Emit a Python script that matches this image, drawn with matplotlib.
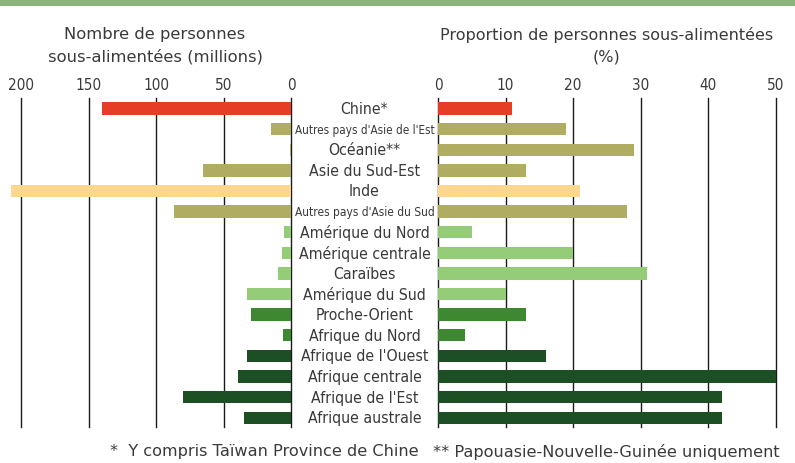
import matplotlib
matplotlib.use("Agg")
import matplotlib.pyplot as plt
import matplotlib.transforms as mtransforms
from matplotlib.patches import Rectangle
from matplotlib import font_manager
from matplotlib.font_manager import FontProperties

categories = ["Chine*", "Autres pays d'Asie de l'Est", "Océanie**", "Asie du Sud-Est",
              "Inde", "Autres pays d'Asie du Sud", "Amérique du Nord", "Amérique centrale",
              "Caraïbes", "Amérique du Sud", "Proche-Orient", "Afrique du Nord",
              "Afrique de l'Ouest", "Afrique centrale", "Afrique de l'Est", "Afrique australe"]
millions = [140, 15, 1, 65, 208, 87, 5, 7, 10, 33, 30, 6, 33, 39, 80, 35]
percent = [11, 19, 29, 13, 21, 28, 5, 20, 31, 10, 13, 4, 16, 50, 42, 42]
left_ticks = [0, 50, 100, 150, 200]
right_ticks = [0, 10, 20, 30, 40, 50]

RED, OLIVE, SAND = "#E63E26", "#B0AC62", "#FDD78F"
LGREEN, MGREEN, DGREEN = "#94CC77", "#3E8832", "#1C4F23"
colors = [RED, OLIVE, OLIVE, OLIVE, SAND, OLIVE, LGREEN, LGREEN, LGREEN, LGREEN,
          MGREEN, MGREEN, DGREEN, DGREEN, DGREEN, DGREEN]

# look for a narrow / condensed regular face, else a narrower sans
narrow_path = None
for f in font_manager.fontManager.ttflist:
    n = f.fname.lower()
    if ("narrow" in n or "condensed" in n) and "bold" not in n and "italic" not in n \
            and "oblique" not in n and "mono" not in n and "serif" not in n.replace("sans", ""):
        narrow_path = f.fname
        break
if narrow_path:
    narrow_fp = FontProperties(fname=narrow_path)
else:
    narrow_fp = FontProperties(family=["Roboto", "DejaVu Sans"])

plt.rcParams["font.family"] = ["DejaVu Sans"]
TXT = "#3a3a3a"

W, H = 795, 464
fig = plt.figure(figsize=(W / 100, H / 100), dpi=100)
fig.patch.set_facecolor("white")

def px(x0, y0, x1, y1):
    return [x0 / W, 1 - y1 / H, (x1 - x0) / W, (y1 - y0) / H]

fig.add_artist(Rectangle((0, 1 - 7 / H), 1, 7 / H, transform=fig.transFigure,
                         color="#8BB47C", lw=0))

axL = fig.add_axes(px(5, 99, 291, 428))
axR = fig.add_axes(px(438, 99, 775.7, 428))

y = list(range(len(categories)))
for ax, vals, ticks, lim in ((axL, millions, left_ticks, (212.2, 0)),
                             (axR, percent, right_ticks, (0, 50))):
    ax.barh(y, vals, height=0.6, color=colors, zorder=3)
    ax.set_xlim(*lim)
    ax.set_ylim(15.45, -0.51)
    ax.set_xticks(ticks)
    ax.xaxis.tick_top()
    ax.tick_params(axis="x", length=0, pad=4, labelcolor=TXT)
    for lab in ax.get_xticklabels():
        lab.set_fontproperties(narrow_fp)
        lab.set_fontsize(11)
    ax.set_yticks([])
    for t in ticks:
        ax.axvline(t, color="#1a1a1a", lw=1.0, zorder=1, clip_on=False)
    for s in ax.spines.values():
        s.set_visible(False)
    ax.patch.set_alpha(0)

renderer = fig.canvas.get_renderer()

def fit(txt, target_px):
    ext = txt.get_window_extent(renderer=renderer)
    txt.set_fontsize(txt.get_fontsize() * target_px / ext.width)

trans = mtransforms.blended_transform_factory(fig.transFigure, axR.transData)
for i, c in enumerate(categories):
    t = fig.text(364.5 / W, i, c, transform=trans, ha="center", va="center",
                 fontproperties=narrow_fp, fontsize=11.3, color=TXT)
    if c.startswith("Autres"):
        fit(t, 140)

fig.text(155 / W, 1 - 35 / H, "Nombre de personnes", ha="center", va="center",
         fontsize=11.8, color=TXT)
fig.text(155 / W, 1 - 57 / H, "sous-alimentées (millions)", ha="center", va="center",
         fontsize=11.8, color=TXT)
fig.text(607 / W, 1 - 35 / H, "Proportion de personnes sous-alimentées", ha="center",
         va="center", fontsize=11.5, color=TXT)
fig.text(607 / W, 1 - 57 / H, "(%)", ha="center", va="center", fontsize=11.5, color=TXT)

fig.text(110 / W, 1 - 452 / H, "*  Y compris Taïwan Province de Chine", ha="left",
         va="center", fontsize=11.6, color=TXT)
fig.text(780 / W, 1 - 452 / H, "** Papouasie-Nouvelle-Guinée uniquement", ha="right",
         va="center", fontsize=11.6, color=TXT)

fig.savefig("out.png", dpi=100)
